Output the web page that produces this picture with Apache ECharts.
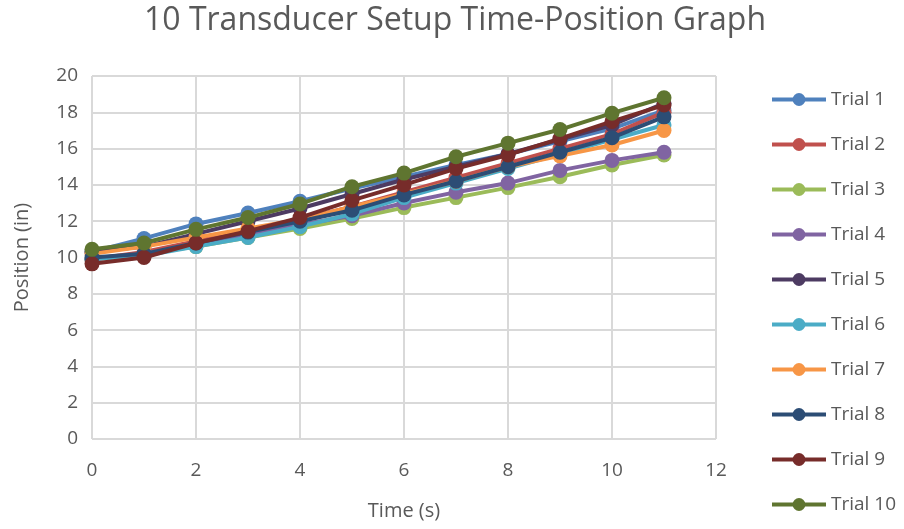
<!DOCTYPE html>
<html>
<head>
<meta charset="utf-8">
<script src="https://cdn.jsdelivr.net/npm/echarts@6/dist/echarts.min.js"></script>
<style>
  html, body { margin: 0; padding: 0; background: #fff; }
  #main { width: 904px; height: 529px; }
</style>
</head>
<body>
<div id="main"></div>
<script>
// time values (s)
const times = [0, 1, 2, 3, 4, 5, 6, 7, 8, 9, 10, 11];

// position (in) per trial
const trial1 = [10.3, 11.05, 11.85, 12.45, 13.1, 13.8, 14.45, 15.1, 15.7, 16.4, 17.1, 18.1];
const trial2 = [9.9, 10.3, 10.9, 11.5, 12.1, 12.8, 13.6, 14.4, 15.2, 16.0, 16.8, 18.0];
const trial3 = [9.9, 10.2, 10.6, 11.1, 11.6, 12.15, 12.75, 13.3, 13.85, 14.45, 15.1, 15.65];
const trial4 = [9.9, 10.2, 10.7, 11.3, 11.8, 12.3, 13.0, 13.6, 14.1, 14.8, 15.35, 15.8];
const trial5 = [10.3, 10.6, 11.3, 12.0, 12.7, 13.5, 14.3, 15.0, 15.7, 16.5, 17.3, 18.5];
const trial6 = [9.9, 10.1, 10.6, 11.1, 11.7, 12.4, 13.3, 14.1, 14.9, 15.7, 16.5, 17.3];
const trial7 = [10.2, 10.6, 11.1, 11.6, 12.1, 12.8, 13.5, 14.2, 15.0, 15.6, 16.2, 17.0];
const trial8 = [10.0, 10.2, 10.8, 11.4, 12.0, 12.6, 13.45, 14.2, 15.0, 15.8, 16.6, 17.75];
const trial9 = [9.65, 10.0, 10.8, 11.45, 12.2, 13.15, 14.0, 14.9, 15.65, 16.55, 17.5, 18.4];
const trial10 = [10.45, 10.8, 11.55, 12.2, 12.95, 13.9, 14.65, 15.55, 16.3, 17.05, 17.95, 18.8];

const trialNames = ['Trial 1', 'Trial 2', 'Trial 3', 'Trial 4', 'Trial 5',
  'Trial 6', 'Trial 7', 'Trial 8', 'Trial 9', 'Trial 10'];
const trialData = [trial1, trial2, trial3, trial4, trial5, trial6, trial7, trial8, trial9, trial10];
const colors = ['#4F81BD', '#C0504D', '#9BBB59', '#8064A2', '#4D3B62',
  '#4BACC6', '#F79646', '#2C4D75', '#772C2A', '#5F7530'];

const textColor = '#595959';
const font = 'Open Sans';

let myChart = echarts.init(document.getElementById('main'));

myChart.setOption({
  color: colors,
  animation: false,
  title: {
    text: '10 Transducer Setup Time-Position Graph',
    left: 450,
    textAlign: 'center',
    top: 0,
    textStyle: { fontFamily: font, fontSize: 32, fontWeight: 'normal', color: textColor }
  },
  legend: {
    orient: 'vertical',
    left: 770,
    top: 90,
    height: 432,
    padding: 0,
    itemWidth: 54,
    itemHeight: 16,
    itemGap: 26,
    lineStyle: { width: 4 },
    textStyle: { fontFamily: font, fontSize: 19, color: textColor },
    data: trialNames
  },
  grid: { left: 92, right: 188, top: 76, bottom: 90 },
  xAxis: {
    type: 'value',
    min: 0,
    max: 12,
    interval: 2,
    name: 'Time (s)',
    nameLocation: 'middle',
    nameGap: 62,
    nameTextStyle: { fontFamily: font, fontSize: 20, color: textColor },
    axisLine: { show: false },
    axisTick: { show: false },
    axisLabel: { fontFamily: font, fontSize: 19, color: textColor, margin: 22 },
    splitLine: { lineStyle: { color: '#d9d9d9', width: 2 } }
  },
  yAxis: {
    type: 'value',
    min: 0,
    max: 20,
    interval: 2,
    name: 'Position (in)',
    nameLocation: 'middle',
    nameGap: 60,
    nameTextStyle: { fontFamily: font, fontSize: 20, color: textColor },
    axisLine: { show: false },
    axisTick: { show: false },
    axisLabel: { fontFamily: font, fontSize: 19, color: textColor, margin: 14 },
    splitLine: { lineStyle: { color: '#d9d9d9', width: 2 } }
  },
  series: trialData.map((vals, i) => ({
    name: trialNames[i],
    type: 'line',
    data: times.map((t, j) => [t, vals[j]]),
    symbol: 'circle',
    symbolSize: 15,
    lineStyle: { width: 4 },
    z: 2 + i
  }))
});
</script>
</body>
</html>
